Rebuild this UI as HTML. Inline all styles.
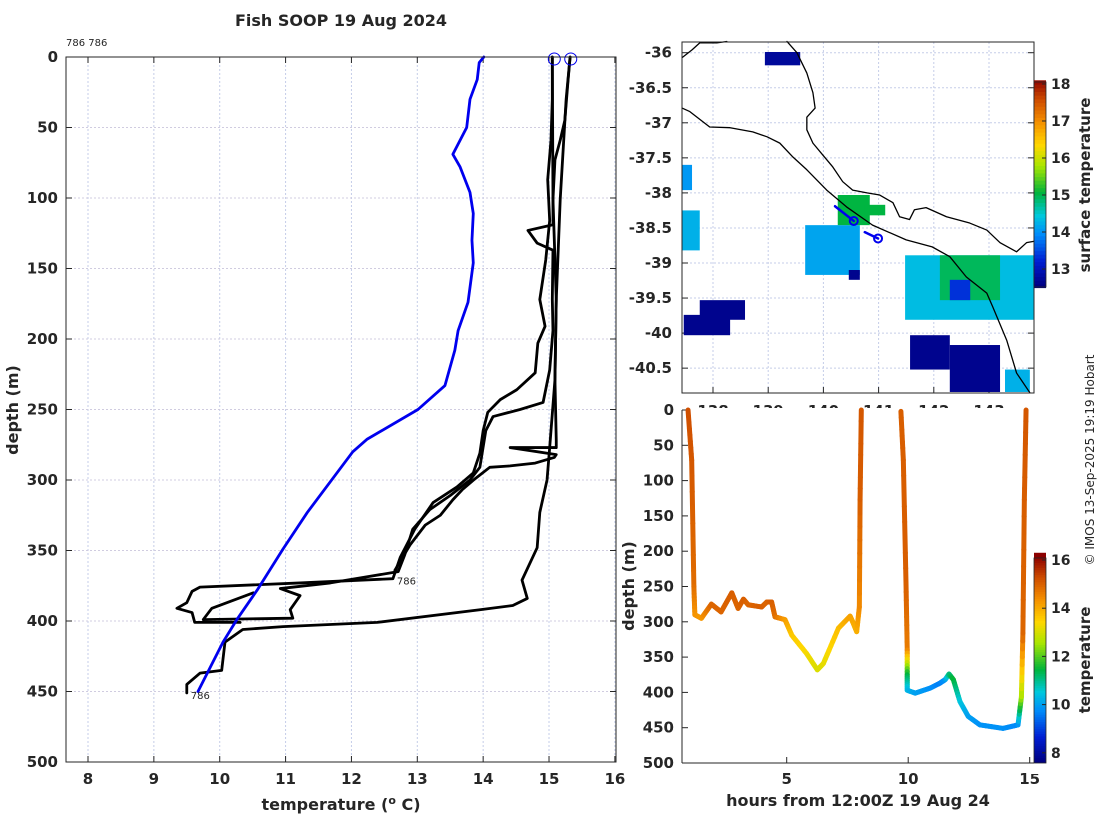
<!DOCTYPE html>
<html><head><meta charset="utf-8"><style>
body{margin:0;background:#fff}
svg text{font-family:"DejaVu Sans","Liberation Sans",sans-serif;fill:#262626}
.tk{font-size:15px;font-weight:bold}
</style></head><body>
<svg id="fig" width="1100" height="820" viewBox="0 0 1100 820" xmlns="http://www.w3.org/2000/svg">
<g id="g-left"></g>
<g id="g-map"></g>
<g id="g-br"></g>
<text x="341" y="26" text-anchor="middle" style="font-size:16px;font-weight:bold">Fish SOOP 19 Aug 2024</text>
<text x="66" y="46" style="font-size:10px">786 786</text>
<text transform="translate(18,410) rotate(-90)" text-anchor="middle" class="tk" style="font-size:16px">depth (m)</text>
<text x="341" y="810" text-anchor="middle" class="tk" style="font-size:16px">temperature (<tspan dy="-6" style="font-size:11px">o</tspan><tspan dy="6"> C)</tspan></text>
<text transform="translate(634,586) rotate(-90)" text-anchor="middle" class="tk" style="font-size:16px">depth (m)</text>
<text x="858" y="806" text-anchor="middle" class="tk" style="font-size:16px">hours from 12:00Z 19 Aug 24</text>
<text transform="translate(1090,185) rotate(-90)" text-anchor="middle" class="tk">surface temperature</text>
<text transform="translate(1090,660) rotate(-90)" text-anchor="middle" class="tk">temperature</text>
<text transform="translate(1094,460) rotate(-90)" text-anchor="middle" style="font-size:12px">© IMOS 13-Sep-2025 19:19 Hobart</text>
</svg>
<script>
// ---------- data: left profile chart ----------
const blueT=[14.01,13.94,13.91,13.80,13.75,13.54,13.65,13.80,13.85,13.83,13.85,13.77,13.62,13.57,13.42,13.01,12.24,12.02,11.33,10.96,10.57,10.26,10.05,9.67];
const blueD=[0,4,16,30,50,69,78,96,111,130,146,174,194,208,233,250,271,280,323,349,378,399,415,450];
const traceAT=[15.05,15.05,15.03,14.98,15.01,14.95,14.86,14.94,14.83,14.79,14.51,14.26,14.07,14.00,13.95,13.85,13.60,13.24,12.96,12.74,12.63,11.22,9.70,9.58,9.50,9.35,9.58,9.62,10.31];
const traceAD=[0,30,59,87,116,144,172,191,203,224,236,243,252,265,281,295,305,316,335,355,370,373,376,379,387,391,394,401,401];
const traceBT=[15.32,15.29,15.24,15.17,15.09,15.06,15.06,14.68,14.82,15.06,15.05,15.06,15.01,14.91,14.56,14.15,14.04,13.95,13.80,13.50,13.19,12.93,12.81,12.71,11.68,10.92,11.22,11.07,11.11,9.75,9.88,10.51];
const traceBD=[0,16,45,59,73,101,119,123,132,137,172,194,222,245,250,255,265,291,300,311,321,335,353,365,373,377,382,392,398,399,391,380];
const traceCT=[15.05,15.06,15.11,15.09,15.11,15.11,14.41,15.11,15.08,14.79,14.41,14.10,13.88,13.68,13.54,13.35,13.12,12.89,12.66];
const traceCD=[0,101,172,229,272,277,277,282,284,288,290,291,299,307,314,325,332,346,364];
const traceDT=[15.32,15.26,15.17,15.11,15.09,15.01,14.97,14.86,14.82,14.59,14.67,14.45,13.95,12.39,10.96,10.35,10.08,10.03,9.70,9.50,9.50];
const traceDD=[0,30,101,172,229,277,300,323,348,371,384,389,392,401,404,406,415,435,437,445,451];
const surfT=[15.08,15.33];
const leftXTicks=[8,9,10,11,12,13,14,15,16];
const depthTicks=[0,50,100,150,200,250,300,350,400,450,500];
// ---------- data: map ----------
const lonTicks=[138,139,140,141,142,143];
const latTicks=[-36,-36.5,-37,-37.5,-38,-38.5,-39,-39.5,-40,-40.5];
const sstBlobs=[[138.94,-35.99,139.58,-36.18,12.7],[137.76,-39.53,138.58,-39.81,12.6],[137.47,-39.74,138.31,-40.03,12.6],[139.67,-38.46,140.66,-39.17,14.1],[140.26,-38.03,140.84,-38.46,15.0],[140.75,-38.17,141.12,-38.32,15.0],[141.48,-38.89,143.82,-39.81,14.3],[142.11,-38.89,143.20,-39.53,14.9],[142.29,-39.24,142.66,-39.53,13.3],[141.57,-40.03,142.29,-40.52,12.6],[142.29,-40.17,143.20,-40.84,12.6],[137.44,-37.60,137.62,-37.96,14.0],[137.44,-38.25,137.76,-38.82,14.2],[143.29,-40.52,143.74,-40.84,14.2],[140.46,-39.10,140.66,-39.24,12.6]];
const coast1Lon=[137.44,137.62,137.76,138.07,138.25];
const coast1Lat=[-36.07,-35.96,-35.86,-35.86,-35.84];
const coast2Lon=[139.34,139.52,139.70,139.81,139.85,139.70,139.70,139.81,139.99,140.17,140.35,140.53,140.79,141.02,141.26,141.38,141.56,141.65,141.86,142.23,142.65,142.96,143.20,143.50,143.68,143.82];
const coast2Lat=[-35.84,-36.00,-36.29,-36.57,-36.79,-36.92,-37.10,-37.29,-37.46,-37.63,-37.84,-37.96,-38.00,-38.03,-38.14,-38.34,-38.38,-38.24,-38.21,-38.34,-38.43,-38.53,-38.71,-38.84,-38.71,-38.69];
const coast3Lon=[137.44,137.58,137.94,138.31,138.72,138.98,139.21,139.45,139.70,140.06,140.42,140.89,141.50,141.97,142.29,142.59,142.96,143.07,143.32,143.50,143.74];
const coast3Lat=[-36.79,-36.84,-37.06,-37.07,-37.13,-37.20,-37.29,-37.49,-37.67,-37.96,-38.20,-38.46,-38.67,-38.77,-38.91,-39.20,-39.43,-39.63,-40.10,-40.57,-40.85];
const trackLon=[140.21,140.55];const trackLat=[-38.19,-38.40];
const track2Lon=[140.75,140.99];const track2Lat=[-38.56,-38.65];
const mapCbTicks=[13,14,15,16,17,18];
// ---------- data: depth-time chart ----------
const seg1H=[0.94,1.09,1.18,1.22,1.49,1.9,2.3,2.74,3.0,3.22,3.42,3.97,4.18,4.38,4.52,4.93,5.21,5.82,6.26,6.51,7.13,7.61,7.74,7.88,7.99,8.02,8.07];
const seg1D=[0,71,250,290,295,275,286,259,281,268,276,279,272,272,293,297,319,345,368,359,309,292,302,314,279,127,0];
const seg1T=[15.2,15.1,14.8,14.3,14.2,14.9,14.9,15.0,14.9,15.0,14.9,15.0,14.9,15.0,14.8,14.2,13.6,13.3,13.0,13.1,13.7,14.1,14.0,13.9,14.4,15.0,15.1];
const seg2H=[9.7,9.80,9.91,9.96,9.96,9.96,10.29,10.9,11.3,11.52,11.68,11.86,12.13,12.47,12.95,13.9,14.52,14.66,14.72,14.78,14.85];
const seg2D=[2,71,246,340,375,397,401,394,387,382,374,382,413,434,446,451,446,406,316,127,0];
const seg2T=[15.0,15.0,15.0,14.6,11.5,10.3,10.0,9.8,9.6,9.8,11.0,11.5,10.5,10.0,9.8,9.8,9.7,12.5,14.9,15.0,15.1];
const hourTicks=[5,10,15];
const brCbTicks=[8,10,12,14,16];

const NS='http://www.w3.org/2000/svg';
function mk(p,tag,at){const e=document.createElementNS(NS,tag);for(const k in at)e.setAttribute(k,at[k]);p.appendChild(e);return e;}
const CM=[[0,0,0,130],[0.12,0,30,210],[0.25,0,140,250],[0.34,0,200,220],[0.45,0,180,60],[0.58,170,230,0],[0.68,255,215,0],[0.79,245,145,0],[0.9,205,75,0],[1,140,0,0]];
function jet(v){v=Math.max(0,Math.min(1,v));
 for(let i=0;i<CM.length-1;i++){const a=CM[i],b=CM[i+1];if(v<=b[0]){const f=(v-a[0])/(b[0]-a[0]);
  return `rgb(${Math.round(a[1]+(b[1]-a[1])*f)},${Math.round(a[2]+(b[2]-a[2])*f)},${Math.round(a[3]+(b[3]-a[3])*f)})`;}}
 return 'rgb(140,0,0)';}

// ===== left chart =====
const L=document.getElementById('g-left');
const lx=t=>66+(t-7.666)*65.86, ly=d=>57+d*1.41;
const grid=mk(L,'g',{});


leftXTicks.forEach(t=>{const l=mk(grid,'line',{x1:lx(t),x2:lx(t),y1:57,y2:762,stroke:'#c5cde8','stroke-width':1,'stroke-dasharray':'2,2'});
 const tx=mk(L,'text',{x:lx(t),y:784,'text-anchor':'middle',class:'tk'});tx.textContent=t;
 mk(L,'line',{x1:lx(t),x2:lx(t),y1:762,y2:756,stroke:'#262626'});mk(L,'line',{x1:lx(t),x2:lx(t),y1:57,y2:63,stroke:'#262626'});});
depthTicks.forEach(d=>{const l=mk(grid,'line',{x1:66,x2:616,y1:ly(d),y2:ly(d),stroke:'#d0cce0','stroke-width':1,'stroke-dasharray':'2,2'});
 const tx=mk(L,'text',{x:58,y:ly(d)+5,'text-anchor':'end',class:'tk'});tx.textContent=d;
 mk(L,'line',{x1:66,x2:72,y1:ly(d),y2:ly(d),stroke:'#262626'});mk(L,'line',{x1:610,x2:616,y1:ly(d),y2:ly(d),stroke:'#262626'});});
function pl(g,T,D,fx,fy,col,w,name){const p=mk(g,'polyline',{points:T.map((t,i)=>fx(t)+','+fy(D[i])).join(' '),fill:'none',stroke:col,'stroke-width':w,'stroke-linejoin':'round','stroke-linecap':'round'});return p;}
pl(L,traceAT,traceAD,lx,ly,'#000',2.8,'profile-trace-a');
pl(L,traceBT,traceBD,lx,ly,'#000',2.8,'profile-trace-b');
pl(L,traceCT,traceCD,lx,ly,'#000',2.8,'profile-trace-c');
pl(L,traceDT,traceDD,lx,ly,'#000',2.8,'profile-trace-d');
pl(L,blueT,blueD,lx,ly,'#0000ee',2.8,'climatology-line');
surfT.forEach(t=>{const c=mk(L,'circle',{cx:lx(t),cy:59,r:6,fill:'none',stroke:'#0000ee','stroke-width':1});});
[[traceAT[20],traceAD[20]],[traceDT[20],traceDD[20]]].forEach(p=>{const tx=mk(L,'text',{x:lx(p[0])+4,y:ly(p[1])+6,style:'font-size:10px'});tx.textContent='786';});
const lb=mk(L,'rect',{x:66,y:57,width:550,height:705,fill:'none',stroke:'#262626','stroke-width':1});



// ===== map =====
const M=document.getElementById('g-map');
const mx=lon=>713+(lon-138)*55.2, my=lat=>52.7+(-36-lat)*70.1;
const sstN=v=>(v-12.5)/5.6;
const mg=mk(M,'g',{});
lonTicks.forEach(t=>{mk(mg,'line',{x1:mx(t),x2:mx(t),y1:42,y2:393,stroke:'#c5cde8','stroke-dasharray':'2,2'});
 mk(M,'line',{x1:mx(t),x2:mx(t),y1:393,y2:387,stroke:'#262626'});
 const tx=mk(M,'text',{x:mx(t),y:416,'text-anchor':'middle',class:'tk'});tx.textContent=t;});
latTicks.forEach(t=>{mk(mg,'line',{x1:682,x2:1034,y1:my(t),y2:my(t),stroke:'#c5cde8','stroke-dasharray':'2,2'});
 mk(M,'line',{x1:682,x2:688,y1:my(t),y2:my(t),stroke:'#262626'});mk(M,'line',{x1:1028,x2:1034,y1:my(t),y2:my(t),stroke:'#262626'});
 const tx=mk(M,'text',{x:672,y:my(t)+5,'text-anchor':'end',class:'tk'});tx.textContent=t;});
sstBlobs.forEach(b=>{const r=mk(M,'rect',{x:mx(b[0]),y:my(b[1]),width:mx(b[2])-mx(b[0]),height:my(b[3])-my(b[1]),fill:jet(sstN(b[4]))});});
pl(M,coast1Lon,coast1Lat,mx,my,'#000',1.3,'coastline');
pl(M,coast2Lon,coast2Lat,mx,my,'#000',1.3,'coastline');
pl(M,coast3Lon,coast3Lat,mx,my,'#000',1.3,'coastline');
pl(M,trackLon,trackLat,mx,my,'#0000ee',2.5,'ship-track');
pl(M,track2Lon,track2Lat,mx,my,'#0000ee',2.5,'ship-track');
[[trackLon[1],trackLat[1]],[track2Lon[1],track2Lat[1]]].forEach(p=>{const c=mk(M,'circle',{cx:mx(p[0]),cy:my(p[1]),r:4,fill:'none',stroke:'#0000ee','stroke-width':2});});
const mf=mk(M,'rect',{x:682,y:42,width:352,height:351,fill:'none',stroke:'#262626'});


const cbY=v=>84+(18-v)*37;
for(let v=12.5;v<18.1;v+=0.1){mk(M,'rect',{x:1034,y:cbY(v+0.1),width:12,height:38*0.1+0.5,fill:jet(sstN(v))});}
mapCbTicks.forEach(t=>{mk(M,'line',{x1:1046,x2:1042,y1:cbY(t),y2:cbY(t),stroke:'#262626'});const tx=mk(M,'text',{x:1051,y:cbY(t)+5,class:'tk',style:'font-size:14px'});tx.textContent=t;});
const mcb=mk(M,'rect',{x:1034,y:82,width:12,height:205,fill:'none',stroke:'#262626','stroke-width':0.8});



// ===== bottom-right chart =====
const B=document.getElementById('g-br');
mk(B,'rect',{x:676,y:408,width:358,height:10,fill:'#fff'});
const bx=h=>786.7+(h-5)*24.3, by=d=>410+d*0.706;
const bN=v=>(v-7.6)/8.5;
depthTicks.forEach(d=>{mk(B,'line',{x1:682,x2:688,y1:by(d),y2:by(d),stroke:'#262626'});const tx=mk(B,'text',{x:674,y:by(d)+5,'text-anchor':'end',class:'tk'});tx.textContent=d;});
hourTicks.forEach(h=>{mk(B,'line',{x1:bx(h),x2:bx(h),y1:763,y2:757,stroke:'#262626'});const tx=mk(B,'text',{x:bx(h),y:784,'text-anchor':'middle',class:'tk'});tx.textContent=h;});
function colorPath(H,D,T,name){const g=mk(B,'g',{});
 for(let i=0;i<H.length-1;i++){const n=8;for(let k=0;k<n;k++){const a=k/n,b2=(k+1)/n;
  const x1=bx(H[i]+(H[i+1]-H[i])*a),y1=by(D[i]+(D[i+1]-D[i])*a),x2=bx(H[i]+(H[i+1]-H[i])*b2),y2=by(D[i]+(D[i+1]-D[i])*b2);
  const t=T[i]+(T[i+1]-T[i])*(a+b2)/2;mk(g,'line',{x1,y1,x2,y2,stroke:jet(bN(t)),'stroke-width':5,'stroke-linecap':'round'});}}}
colorPath(seg1H,seg1D,seg1T,'dive-track-1');
colorPath(seg2H,seg2D,seg2T,'dive-track-2');
mk(B,'line',{x1:682,x2:682,y1:410,y2:763,stroke:'#262626'});
mk(B,'line',{x1:682,x2:1034,y1:763,y2:763,stroke:'#262626'});
const bcY=v=>560+(16-v)*24.1;
for(let v=7.6;v<16.2;v+=0.1){mk(B,'rect',{x:1034,y:bcY(v+0.1),width:12,height:3,fill:jet(bN(v))});}
mk(B,'rect',{x:1030,y:764,width:20,height:10,fill:'#fff'});
brCbTicks.forEach(t=>{mk(B,'line',{x1:1046,x2:1042,y1:bcY(t),y2:bcY(t),stroke:'#262626'});const tx=mk(B,'text',{x:1051,y:bcY(t)+5,class:'tk',style:'font-size:14px'});tx.textContent=t;});
const bcb=mk(B,'rect',{x:1034,y:558,width:12,height:205,fill:'none',stroke:'#262626','stroke-width':0.8});


</script>
</body></html>
